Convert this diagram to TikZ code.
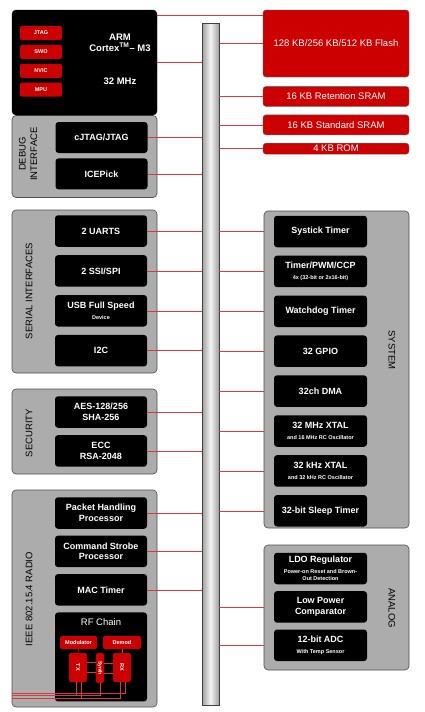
\documentclass[tikz,border=0pt]{standalone}
\usepackage{fontspec}
\setmainfont{Liberation Sans}
\usepackage{xcolor}
\usepackage{tikz}
\usetikzlibrary{positioning}

\definecolor{tired}{RGB}{204,0,0}
\definecolor{wirered}{RGB}{214,58,58}
\definecolor{panelgray}{RGB}{172,172,172}
\newcommand{\subline}[1]{{\fontsize{5.5}{6.5}\selectfont #1}}

\begin{document}
\begin{tikzpicture}[x=1pt, y=-1pt, node distance=8pt,
		panel/.style={fill=panelgray, draw=black!70, rounded corners=4pt, line width=0.6pt, inner sep=0pt},
		blk/.style={fill=black, rounded corners=3pt, text=white, align=center, minimum width=92pt, minimum height=31.5pt, inner sep=1pt, font=\fontsize{9}{10.5}\selectfont\bfseries},
		mem/.style={fill=tired, draw=black!60, rounded corners=3pt, text=white, minimum width=146pt, inner sep=0pt, font=\fontsize{9.5}{11}\selectfont},
		redtag/.style={fill=tired, rounded corners=2pt, text=white, inner sep=0pt, align=center, font=\fontsize{5.5}{6}\selectfont\bfseries},
		grp/.style={font=\fontsize{9.5}{11.5}\selectfont, align=center},
		busline/.style={draw=wirered, line width=0.5pt},
		bus/.style={left color=gray!75, right color=gray!75, middle color=gray!8, draw=gray!50!black, line width=0.4pt, minimum width=17pt, minimum height=682pt, inner sep=0pt}]
	\useasboundingbox (0,0) rectangle (424,712);

	% bus
	\node[bus] (bus) at (210.5,364) {};

	% cpu and debug
	\node[panel, minimum width=145pt, minimum height=82pt] (dbg) at (84.5,156.5) {};
	\node[fill=black, draw=black, rounded corners=4pt, minimum width=145pt, minimum height=105pt] (cpu) at (84.5,62.5) {};
	\node[redtag, minimum width=42pt, minimum height=14pt] (jtag) at (41,33) {JTAG};
	\node[redtag, minimum width=42pt, minimum height=14pt] (swo) [below=4.5pt of jtag] {SWO};
	\node[redtag, minimum width=42pt, minimum height=14pt] (nvic) [below=4.5pt of swo] {NVIC};
	\node[redtag, minimum width=42pt, minimum height=14pt] (mpu) [below=4.5pt of nvic] {MPU};
	\node[blk, fill=none, minimum width=0pt, minimum height=0pt, font=\fontsize{9.5}{11}\selectfont\bfseries] (arm) at (120,42.5) {ARM\\Cortex\textsuperscript{TM}– M3};
	\node[blk, fill=none, minimum width=0pt, minimum height=0pt, font=\fontsize{9.5}{11}\selectfont\bfseries] (mhz) at (120,81) {32 MHz};
	\node[grp, rotate=90] (dbglbl) at (28,154) {DEBUG\\INTERFACE};
	\node[blk, minimum height=31pt] (cjtag) at (101.5,137.5) {cJTAG/JTAG};
	\node[blk, minimum height=31pt] (icepick) [below=5pt of cjtag] {ICEPick};

	% memory
	\node[mem, minimum height=67pt] (flash) at (336,43.5) {128 KB/256 KB/512 KB Flash};
	\node[mem, minimum height=20pt] (rsram) [below=9pt of flash] {16 KB Retention SRAM};
	\node[mem, minimum height=20pt] (ssram) [below=of rsram] {16 KB Standard SRAM};
	\node[mem, minimum height=11pt] (rom) [below=of ssram] {4 KB ROM};

	% serial interfaces
	\node[panel, minimum width=145pt, minimum height=163pt] (serial) at (84.5,291.5) {};
	\node[grp, rotate=90] (serlbl) at (29,291) {SERIAL INTERFACES};
	\node[blk] (uart) at (101,231) {2 UARTS};
	\node[blk] (ssi) [below=of uart] {2 SSI/SPI};
	\node[blk] (usb) [below=of ssi] {USB Full Speed\\\subline{Device}};
	\node[blk] (i2c) [below=of usb] {I2C};

	% security
	\node[panel, minimum width=145pt, minimum height=85pt] (sec) at (84.5,431.5) {};
	\node[grp, rotate=90] (seclbl) at (29,433) {SECURITY};
	\node[blk] (aes) at (101,412) {AES-128/256\\SHA-256};
	\node[blk] (ecc) [below=7pt of aes] {ECC\\RSA-2048};

	% radio
	\node[panel, minimum width=145pt, minimum height=217pt] (radio) at (84.5,598.5) {};
	\node[grp, rotate=90] (radlbl) at (29,599) {IEEE 802.15.4 RADIO};
	\node[blk] (pkt) at (101,513) {Packet Handling\\Processor};
	\node[blk] (csp) [below=6.5pt of pkt] {Command Strobe\\Processor};
	\node[blk] (mac) [below=6.5pt of csp] {MAC Timer};
	\node[blk, minimum height=89pt] (rf) [below=6.5pt of mac] {};
	\node[blk, fill=none, minimum width=0pt, minimum height=0pt, font=\fontsize{9.5}{11}\selectfont] (rflbl) at ([yshift=-10pt]rf.north) {RF Chain};
	\node[redtag, minimum width=37pt, minimum height=13pt] (mod) at (78.5,642.5) {Modulator};
	\node[redtag, minimum width=38pt, minimum height=13pt] (demod) at (122,642.5) {Demod};
	\node[redtag, minimum width=18pt, minimum height=29pt] (tx) at (78,667.5) {\rotatebox{-90}{TX}};
	\node[redtag, minimum width=8pt, minimum height=30pt] (synth) at (100,668) {\rotatebox{-90}{\fontsize{5}{6}\selectfont Synth}};
	\node[redtag, minimum width=18pt, minimum height=29pt] (rx) at (122,667.5) {\rotatebox{-90}{RX}};
	\coordinate (rfa) at (12,693);
	\coordinate (rfb) at (12,695.5);
	\coordinate (rfc) at (12,698);

	% system
	\node[panel, minimum width=145pt, minimum height=317pt] (sys) at (336.5,369.5) {};
	\node[grp, rotate=-90] (syslbl) at (392,350) {SYSTEM};
	\node[blk, minimum width=93pt] (systick) at (320.5,231.5) {Systick Timer};
	\node[blk, minimum width=93pt] (timer) [below=of systick] {Timer/PWM/CCP\\\subline{4x (32-bit or 2x16-bit)}};
	\node[blk, minimum width=93pt] (wdt) [below=of timer] {Watchdog Timer};
	\node[blk, minimum width=93pt] (gpio) [below=of wdt] {32 GPIO};
	\node[blk, minimum width=93pt] (dma) [below=of gpio] {32ch DMA};
	\node[blk, minimum width=93pt] (hfxtal) [below=of dma] {32 MHz XTAL\\\subline{and 16 MHz RC Oscillator}};
	\node[blk, minimum width=93pt] (lfxtal) [below=of hfxtal] {32 kHz XTAL\\\subline{and 32 kHz RC Oscillator}};
	\node[blk, minimum width=93pt] (sleep) [below=of lfxtal] {32-bit Sleep Timer};

	% analog
	\node[panel, minimum width=145pt, minimum height=125pt] (ana) at (336.5,607.5) {};
	\node[grp, rotate=-90] (analbl) at (392,608) {ANALOG};
	\node[blk, minimum width=93pt] (ldo) at (320.5,568.5) {LDO Regulator\\\subline{Power-on Reset and Brown-}\\[-3.5pt]\subline{Out Detection}};
	\node[blk, minimum width=93pt] (comp) [below=6.5pt of ldo] {Low Power\\Comparator};
	\node[blk, minimum width=93pt] (adc) [below=6.5pt of comp] {12-bit ADC\\\subline{With Temp Sensor}};

	% connections to the bus
	\path[busline] ([yshift=-5pt]cpu.north east) edge ([yshift=-5pt]cpu.north east -| flash.west);
	\path[busline] (cpu.east) edge (cpu.east -| bus.west);
	\path[busline] (cjtag.east) edge (cjtag.east -| bus.west);
	\path[busline] (icepick.east) edge (icepick.east -| bus.west);
	\path[busline] (flash.west) edge (flash.west -| bus.east);
	\path[busline] (rsram.west) edge (rsram.west -| bus.east);
	\path[busline] (ssram.west) edge (ssram.west -| bus.east);
	\path[busline] (rom.west) edge (rom.west -| bus.east);
	\path[busline] (uart.east) edge (uart.east -| bus.west);
	\path[busline] (ssi.east) edge (ssi.east -| bus.west);
	\path[busline] (usb.east) edge (usb.east -| bus.west);
	\path[busline] (i2c.east) edge (i2c.east -| bus.west);
	\path[busline] (aes.east) edge (aes.east -| bus.west);
	\path[busline] (ecc.east) edge (ecc.east -| bus.west);
	\path[busline] (pkt.east) edge (pkt.east -| bus.west);
	\path[busline] (csp.east) edge (csp.east -| bus.west);
	\path[busline] (mac.east) edge (mac.east -| bus.west);
	\path[busline] (systick.west -| sys.west) edge (systick.west -| bus.east);
	\path[busline] (timer.west -| sys.west) edge (timer.west -| bus.east);
	\path[busline] (wdt.west -| sys.west) edge (wdt.west -| bus.east);
	\path[busline] (gpio.west -| sys.west) edge (gpio.west -| bus.east);
	\path[busline] (dma.west -| sys.west) edge (dma.west -| bus.east);
	\path[busline] (hfxtal.west -| sys.west) edge (hfxtal.west -| bus.east);
	\path[busline] (lfxtal.west -| sys.west) edge (lfxtal.west -| bus.east);
	\path[busline] (sleep.west -| sys.west) edge (sleep.west -| bus.east);
	\path[busline] (comp.west -| ana.west) edge (comp.west -| bus.east);
	\path[busline] (adc.west -| ana.west) edge (adc.west -| bus.east);

	% rf chain wiring
	\path[busline] (mod.south) edge (tx.north);
	\path[busline] (demod.south) edge (rx.north);
	\path[busline] ([yshift=5pt]tx.east) edge ([yshift=5pt]tx.east -| synth.west);
	\path[busline] ([yshift=-5pt]tx.east) edge ([yshift=-5pt]tx.east -| synth.west);
	\path[busline] ([yshift=5pt]synth.east) edge ([yshift=5pt]synth.east -| rx.west);
	\path[busline] ([yshift=-5pt]synth.east) edge ([yshift=-5pt]synth.east -| rx.west);
	\draw[busline] ([xshift=3pt]rx.south) |- (rfa);
	\draw[busline] (synth.south) |- (rfb);
	\draw[busline] ([xshift=-2pt]rx.south) |- (rfc);
	\draw[busline] ([xshift=3pt]tx.south) -- ([xshift=3pt]tx.south |- rfc);
	\draw[busline] ([xshift=-2pt]tx.south) -- ([xshift=-2pt]tx.south |- rfb);
\end{tikzpicture}
\end{document}
